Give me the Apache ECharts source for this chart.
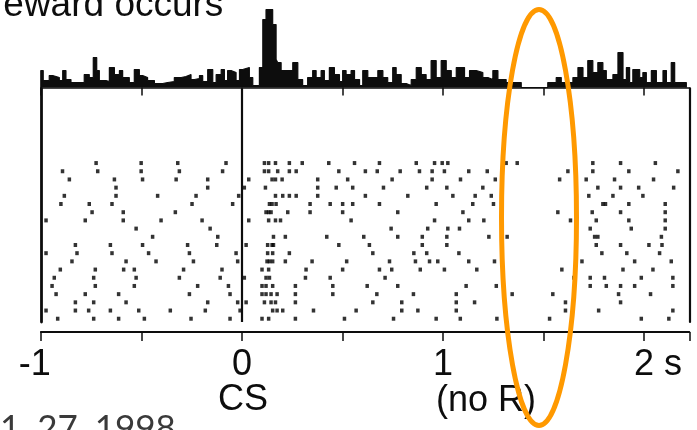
<!DOCTYPE html>
<html><head><meta charset="utf-8">
<script src="https://cdn.jsdelivr.net/npm/echarts@6/dist/echarts.min.js"></script>
<style>html,body{margin:0;padding:0;background:#fff;overflow:hidden}#c{width:697px;height:430px}</style>
</head><body><div id="c"></div>
<script>
// Peri-event histogram: bin start times (s) and counts (arbitrary units)
const histStart = [-1.000,-0.988,-0.958,-0.941,-0.908,-0.891,-0.875,-0.850,-0.784,-0.759,-0.739,-0.722,-0.709,-0.676,-0.659,-0.634,-0.609,-0.593,-0.560,-0.535,-0.510,-0.494,-0.469,-0.435,-0.394,-0.369,-0.336,-0.302,-0.278,-0.253,-0.236,-0.211,-0.195,-0.170,-0.145,-0.128,-0.103,-0.087,-0.071,-0.054,-0.029,-0.012,0.004,0.037,0.054,0.087,0.104,0.120,0.153,0.170,0.178,0.195,0.253,0.278,0.302,0.327,0.352,0.369,0.394,0.410,0.435,0.460,0.485,0.501,0.518,0.543,0.560,0.585,0.601,0.626,0.676,0.701,0.725,0.750,0.767,0.792,0.817,0.842,0.867,0.892,0.916,0.941,0.966,0.991,1.016,1.041,1.066,1.107,1.132,1.165,1.198,1.223,1.248,1.273,1.314,1.389,1.521,1.563,1.588,1.646,1.671,1.696,1.720,1.745,1.770,1.795,1.812,1.845,1.870,1.895,1.912,1.928,1.944,1.978,1.994,2.011,2.036,2.061,2.094,2.111,2.135,2.152,2.210];
const histCount = [17,7,12,10,7,17,8,5,13,10,30,17,7,6,20,13,17,10,5,18,12,10,7,4,5,6,10,11,13,8,9,12,6,18,5,13,18,7,17,15,7,18,20,10,2,20,68,78,63,28,25,17,25,8,2,10,17,10,17,7,20,13,6,17,13,17,8,2,17,10,17,10,5,20,13,4,2,8,20,13,8,27,10,27,17,10,20,10,17,15,10,8,17,8,5,0,5,10,5,10,20,10,27,15,25,17,8,13,35,8,20,5,18,10,15,5,17,5,17,5,25,5,0];

// Raster: spike times (s) for each trial, top to bottom
const spikeTrials = [
 [-0.725,-0.501,-0.319,-0.079,0.112,0.133,0.167,0.236,0.300,0.432,0.560,0.684,0.867,0.958,0.996,1.024,1.314,1.369,1.745,1.883,2.056],
 [-0.892,-0.717,-0.501,-0.311,-0.096,0.112,0.133,0.178,0.236,0.270,0.482,0.614,0.673,0.787,0.883,0.946,1.007,1.128,1.220,1.621,1.745,1.924,2.168],
 [-0.858,-0.634,-0.494,-0.327,-0.170,0.034,0.150,0.167,0.200,0.377,0.526,0.747,0.946,1.087,1.260,1.580,1.712,1.853,2.047],
 [-0.626,-0.170,0.012,0.117,0.377,0.469,0.551,0.704,0.919,1.019,1.198,1.770,1.883,1.973,2.147],
 [-0.883,-0.626,-0.419,-0.228,-0.016,0.167,0.203,0.236,0.270,0.377,0.614,0.825,1.049,1.160,1.240,1.725,1.845,1.994],
 [-0.900,-0.759,-0.646,-0.248,-0.046,0.137,0.150,0.170,0.339,0.439,0.501,0.551,0.684,0.966,1.148,1.251,1.795,1.808,1.924,2.105],
 [-0.745,-0.590,-0.331,0.120,0.133,0.145,0.228,0.339,0.501,0.775,1.099,1.571,1.742,1.883,2.105],
 [-0.974,-0.779,-0.590,-0.402,-0.198,0.034,0.133,0.167,0.192,0.543,0.958,1.128,1.203,1.634,1.762,1.924,2.105],
 [-0.526,-0.158,0.742,0.924,1.024,1.082,1.732,1.936,2.105],
 [-0.444,-0.120,0.157,0.216,0.422,0.606,0.775,0.897,1.019,1.228,1.319,1.754,1.770,2.086],
 [-0.828,-0.654,-0.494,-0.270,-0.125,0.021,0.128,0.150,0.157,0.482,0.634,0.897,1.019,1.762,1.883,2.024,2.089],
 [-0.974,-0.820,-0.646,-0.464,-0.261,-0.029,0.128,0.153,0.236,0.651,0.855,0.919,1.079,1.790,1.914,2.077],
 [-0.845,-0.576,-0.427,-0.241,-0.021,0.125,0.137,0.153,0.216,0.349,0.521,0.734,0.863,0.933,0.974,1.128,1.256,1.691,1.953,2.135],
 [-0.903,-0.729,-0.588,-0.535,-0.290,-0.099,0.100,0.133,0.319,0.501,0.684,0.745,0.887,1.007,1.168,1.591,1.895,2.044],
 [-0.933,-0.737,-0.526,-0.311,-0.108,0.012,0.120,0.137,0.316,0.439,0.712,1.651,1.732,1.803,1.986,2.143],
 [-0.944,-0.729,-0.535,-0.220,-0.067,0.100,0.120,0.153,0.266,0.452,0.623,0.775,1.115,1.265,1.732,1.812,1.883,1.953,2.143],
 [-0.924,-0.779,-0.613,-0.261,-0.059,0.100,0.120,0.145,0.175,0.266,0.452,0.671,0.853,1.066,1.344,1.546,1.873,2.032],
 [-0.828,-0.737,-0.576,-0.170,-0.021,0.021,0.112,0.145,0.167,0.266,0.651,0.795,1.066,1.157,1.609,1.883],
 [-0.974,-0.828,-0.762,-0.654,-0.513,-0.356,-0.182,-0.009,0.153,0.175,0.203,0.356,0.568,0.795,0.875,1.066,1.609,1.774,2.143],
 [-0.916,-0.737,-0.613,-0.485,-0.253,-0.059,0.100,0.133,0.266,0.510,0.754,0.966,1.086,1.268,1.530,1.986,2.123]
];

const tickValues = [-1, 0, 1, 2];
const tickLabels = ['-1', '0', '1', '2 s'];
const eventLabels = ['CS', '(no R)'];
const titleText = 'reward occurs';
const footText = '1, 27, 1998';

const XMIN = -1, XMAX = 2.225, PXS = 201.1, LEFT = 40.8;
const WIDTH = (XMAX - XMIN) * PXS;
const INK = '#0d0d0d';
const FONT = '"Liberation Sans", Arial, Helvetica, sans-serif';

const histData = [[XMIN, 0]].concat(histStart.map((t, i) => [t, histCount[i]]));
const spikeData = [];
spikeTrials.forEach((row, i) => row.forEach(t => spikeData.push([t, i + 1])));

const chart = echarts.init(document.getElementById('c'), null, {renderer: 'canvas'});
chart.setOption({
  animation: false,
  backgroundColor: '#fff',
  grid: [
    {left: LEFT, top: 7.5, width: WIDTH, height: 80},
    {left: LEFT, top: 88.5, width: WIDTH, height: 233.5}
  ],
  xAxis: [
    {gridIndex: 0, type: 'value', min: XMIN, max: XMAX, interval: 0.5,
     axisLine: {onZero: false, lineStyle: {color: INK, width: 1.5}},
     axisTick: {length: 8, lineStyle: {color: INK, width: 1.5}},
     axisLabel: {show: false}, splitLine: {show: false}},
    {gridIndex: 1, type: 'value', min: XMIN, max: XMAX, interval: 0.5, offset: 10,
     axisLine: {onZero: false, lineStyle: {color: INK, width: 1.8}},
     axisTick: {length: 9, lineStyle: {color: INK, width: 1.5}},
     splitLine: {show: false},
     axisLabel: {
       margin: 15, color: INK, fontSize: 36, fontFamily: FONT,
       showMinLabel: true, showMaxLabel: true,
       formatter: function (v) {
         const i = tickValues.findIndex(tv => Math.abs(tv - v) < 1e-9);
         if (i < 0) return '';
         const s = tickLabels[i];
         if (s.charAt(0) === '-') return '{n|' + s + '}{pr| }';
         if (s.indexOf(' ') >= 0) return '{pl| }{n|' + s + '}';
         return '{n|' + s + '}';
       },
       rich: {
         n: {fontSize: 36, fontFamily: FONT, color: INK},
         pl: {fontSize: 36, fontFamily: FONT, width: 28},
         pr: {fontSize: 36, fontFamily: FONT, width: 12}
       }
     }}
  ],
  yAxis: [
    {gridIndex: 0, type: 'value', min: 0, max: 80, show: false},
    {gridIndex: 1, type: 'value', min: -8.1, max: 20.4, inverse: true,
     axisLine: {show: true, onZero: false, lineStyle: {color: INK, width: 2.8}},
     axisTick: {show: false}, axisLabel: {show: false}, splitLine: {show: false}},
    {gridIndex: 1, type: 'value', position: 'right', min: -8.1, max: 20.4, inverse: true,
     axisLine: {show: true, onZero: false, lineStyle: {color: INK, width: 2.2}},
     axisTick: {show: false}, axisLabel: {show: false}, splitLine: {show: false}}
  ],
  series: [
    {type: 'line', xAxisIndex: 0, yAxisIndex: 0, data: histData, step: 'end',
     symbol: 'none', silent: true,
     lineStyle: {color: INK, width: 1.2},
     areaStyle: {color: INK, opacity: 1}},
    {type: 'scatter', xAxisIndex: 1, yAxisIndex: 1, data: spikeData,
     symbol: 'rect', symbolSize: [3.5, 4], silent: true,
     itemStyle: {color: '#000'},
     markLine: {silent: true, symbol: 'none', label: {show: false},
       lineStyle: {color: INK, width: 2.2, type: 'solid'},
       data: [{xAxis: 0}]}}
  ],
  graphic: [
    {type: 'text', z: 50, style: {x: -9, y: 5.5, text: titleText, font: '37px ' + FONT, fill: INK, align: 'left', verticalAlign: 'middle'}},
    {type: 'text', z: 50, style: {x: 243, y: 400.5, text: eventLabels[0], font: '36px ' + FONT, fill: INK, align: 'center', verticalAlign: 'middle'}},
    {type: 'text', z: 50, style: {x: 436, y: 401, text: eventLabels[1], font: '36px ' + FONT, fill: INK, align: 'left', verticalAlign: 'middle'}},
    {type: 'text', z: 50, style: {x: 0, y: 429, text: footText, font: '35px Lato, "Open Sans", sans-serif', fill: '#3a3a3a', align: 'left', verticalAlign: 'middle'}},
    {type: 'ellipse', z: 100, shape: {cx: 539, cy: 217.5, rx: 37.5, ry: 208}, style: {fill: 'none', stroke: '#FF9900', lineWidth: 5}}
  ]
});
</script>
</body></html>
